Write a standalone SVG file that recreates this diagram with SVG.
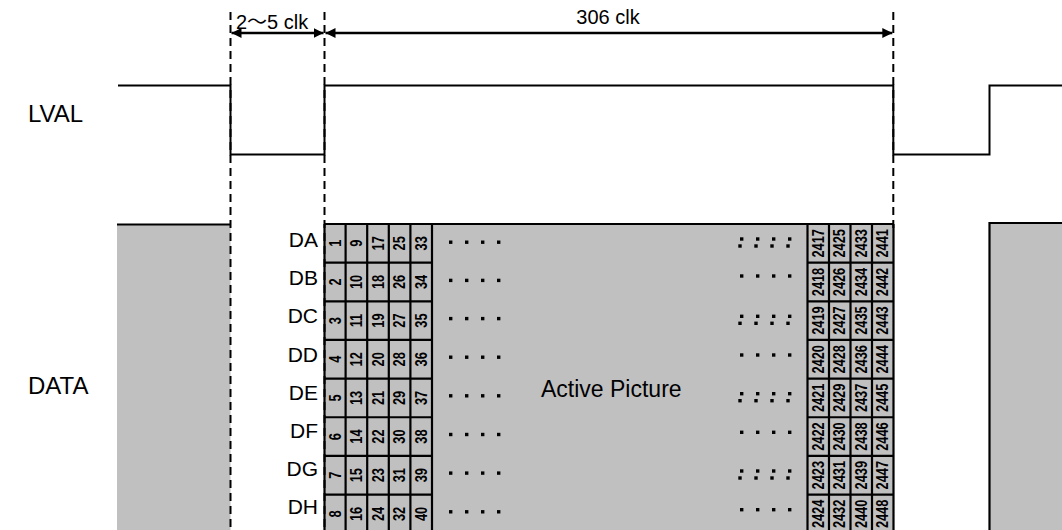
<svg xmlns="http://www.w3.org/2000/svg" width="1062" height="530" viewBox="0 0 1062 530">
<style>
.lbl{font-family:"Liberation Sans",Arial,sans-serif;font-size:24px;fill:#000}
.ap{font-family:"Liberation Sans",Arial,sans-serif;font-size:23px;fill:#000}
.row{font-family:"Liberation Sans",Arial,sans-serif;font-size:21px;fill:#000;text-anchor:end}
.num{font-family:"Liberation Sans",Arial,sans-serif;font-size:16px;font-weight:bold;fill:#000;text-anchor:middle;dominant-baseline:central}
.dim{font-family:"Liberation Sans","Noto Sans CJK JP",sans-serif;font-size:20px;fill:#000}
.wave{fill:none;stroke:#000;stroke-width:2}
.dash{stroke:#000;stroke-width:2;stroke-dasharray:8 5;fill:none}
.grid{stroke:#000;stroke-width:2.2;fill:none}
.gray{fill:#c0c0c0}
.dot{fill:#000}
</style>
<defs>
<marker id="ah" viewBox="0 0 10 10" refX="10" refY="5" markerWidth="10" markerHeight="10" markerUnits="userSpaceOnUse" orient="auto-start-reverse">
<path d="M0,0 L10,5 L0,10 Z" fill="#000"/>
</marker>
</defs>
<g id="labels">
<text class="lbl" x="28" y="122">LVAL</text>
<text class="lbl" x="28" y="394">DATA</text>
</g>
<g id="left-block">
<rect class="gray" x="117" y="224.5" width="113.5" height="305.5"/>
<line class="grid" x1="117" y1="224.5" x2="230.5" y2="224.5"/>
</g>
<g id="right-block">
<rect class="gray" x="989.5" y="223" width="72.5" height="307"/>
<path class="grid" d="M989.5,530 V223 H1062"/>
</g>
<g id="active-area">
<rect class="gray" x="324.5" y="224" width="569" height="306"/>
<line class="grid" x1="324.5" y1="224" x2="893.5" y2="224"/>
<text class="ap" x="541" y="397">Active Picture</text>
</g>
<g id="left-cells">
<path class="grid" d="M324.5,224 V530 M345.6,224 V530 M367.2,224 V530 M388.8,224 V530 M410.4,224 V530 M432,224 V530 M324.5,262.65 H432 M324.5,301.3 H432 M324.5,339.95 H432 M324.5,378.6 H432 M324.5,417.25 H432 M324.5,455.9 H432 M324.5,494.55 H432"/>
<g transform="translate(335,243.3) rotate(-90) scale(0.8,1)"><text class="num">1</text></g>
<g transform="translate(356.4,243.3) rotate(-90) scale(0.8,1)"><text class="num">9</text></g>
<g transform="translate(378,243.3) rotate(-90) scale(0.8,1)"><text class="num">17</text></g>
<g transform="translate(399.6,243.3) rotate(-90) scale(0.8,1)"><text class="num">25</text></g>
<g transform="translate(421.2,243.3) rotate(-90) scale(0.8,1)"><text class="num">33</text></g>
<g transform="translate(335,282) rotate(-90) scale(0.8,1)"><text class="num">2</text></g>
<g transform="translate(356.4,282) rotate(-90) scale(0.8,1)"><text class="num">10</text></g>
<g transform="translate(378,282) rotate(-90) scale(0.8,1)"><text class="num">18</text></g>
<g transform="translate(399.6,282) rotate(-90) scale(0.8,1)"><text class="num">26</text></g>
<g transform="translate(421.2,282) rotate(-90) scale(0.8,1)"><text class="num">34</text></g>
<g transform="translate(335,320.6) rotate(-90) scale(0.8,1)"><text class="num">3</text></g>
<g transform="translate(356.4,320.6) rotate(-90) scale(0.8,1)"><text class="num">11</text></g>
<g transform="translate(378,320.6) rotate(-90) scale(0.8,1)"><text class="num">19</text></g>
<g transform="translate(399.6,320.6) rotate(-90) scale(0.8,1)"><text class="num">27</text></g>
<g transform="translate(421.2,320.6) rotate(-90) scale(0.8,1)"><text class="num">35</text></g>
<g transform="translate(335,359.3) rotate(-90) scale(0.8,1)"><text class="num">4</text></g>
<g transform="translate(356.4,359.3) rotate(-90) scale(0.8,1)"><text class="num">12</text></g>
<g transform="translate(378,359.3) rotate(-90) scale(0.8,1)"><text class="num">20</text></g>
<g transform="translate(399.6,359.3) rotate(-90) scale(0.8,1)"><text class="num">28</text></g>
<g transform="translate(421.2,359.3) rotate(-90) scale(0.8,1)"><text class="num">36</text></g>
<g transform="translate(335,397.9) rotate(-90) scale(0.8,1)"><text class="num">5</text></g>
<g transform="translate(356.4,397.9) rotate(-90) scale(0.8,1)"><text class="num">13</text></g>
<g transform="translate(378,397.9) rotate(-90) scale(0.8,1)"><text class="num">21</text></g>
<g transform="translate(399.6,397.9) rotate(-90) scale(0.8,1)"><text class="num">29</text></g>
<g transform="translate(421.2,397.9) rotate(-90) scale(0.8,1)"><text class="num">37</text></g>
<g transform="translate(335,436.6) rotate(-90) scale(0.8,1)"><text class="num">6</text></g>
<g transform="translate(356.4,436.6) rotate(-90) scale(0.8,1)"><text class="num">14</text></g>
<g transform="translate(378,436.6) rotate(-90) scale(0.8,1)"><text class="num">22</text></g>
<g transform="translate(399.6,436.6) rotate(-90) scale(0.8,1)"><text class="num">30</text></g>
<g transform="translate(421.2,436.6) rotate(-90) scale(0.8,1)"><text class="num">38</text></g>
<g transform="translate(335,475.2) rotate(-90) scale(0.8,1)"><text class="num">7</text></g>
<g transform="translate(356.4,475.2) rotate(-90) scale(0.8,1)"><text class="num">15</text></g>
<g transform="translate(378,475.2) rotate(-90) scale(0.8,1)"><text class="num">23</text></g>
<g transform="translate(399.6,475.2) rotate(-90) scale(0.8,1)"><text class="num">31</text></g>
<g transform="translate(421.2,475.2) rotate(-90) scale(0.8,1)"><text class="num">39</text></g>
<g transform="translate(335,513.9) rotate(-90) scale(0.8,1)"><text class="num">8</text></g>
<g transform="translate(356.4,513.9) rotate(-90) scale(0.8,1)"><text class="num">16</text></g>
<g transform="translate(378,513.9) rotate(-90) scale(0.8,1)"><text class="num">24</text></g>
<g transform="translate(399.6,513.9) rotate(-90) scale(0.8,1)"><text class="num">32</text></g>
<g transform="translate(421.2,513.9) rotate(-90) scale(0.8,1)"><text class="num">40</text></g>
</g>
<g id="right-cells">
<path class="grid" d="M807.5,224 V530 M829,224 V530 M850.5,224 V530 M872,224 V530 M893.5,224 V530 M807.5,262.65 H893.5 M807.5,301.3 H893.5 M807.5,339.95 H893.5 M807.5,378.6 H893.5 M807.5,417.25 H893.5 M807.5,455.9 H893.5 M807.5,494.55 H893.5"/>
<g transform="translate(818.2,243.3) rotate(-90) scale(0.8,1)"><text class="num">2417</text></g>
<g transform="translate(839.7,243.3) rotate(-90) scale(0.8,1)"><text class="num">2425</text></g>
<g transform="translate(861.2,243.3) rotate(-90) scale(0.8,1)"><text class="num">2433</text></g>
<g transform="translate(882.7,243.3) rotate(-90) scale(0.8,1)"><text class="num">2441</text></g>
<g transform="translate(818.2,282) rotate(-90) scale(0.8,1)"><text class="num">2418</text></g>
<g transform="translate(839.7,282) rotate(-90) scale(0.8,1)"><text class="num">2426</text></g>
<g transform="translate(861.2,282) rotate(-90) scale(0.8,1)"><text class="num">2434</text></g>
<g transform="translate(882.7,282) rotate(-90) scale(0.8,1)"><text class="num">2442</text></g>
<g transform="translate(818.2,320.6) rotate(-90) scale(0.8,1)"><text class="num">2419</text></g>
<g transform="translate(839.7,320.6) rotate(-90) scale(0.8,1)"><text class="num">2427</text></g>
<g transform="translate(861.2,320.6) rotate(-90) scale(0.8,1)"><text class="num">2435</text></g>
<g transform="translate(882.7,320.6) rotate(-90) scale(0.8,1)"><text class="num">2443</text></g>
<g transform="translate(818.2,359.3) rotate(-90) scale(0.8,1)"><text class="num">2420</text></g>
<g transform="translate(839.7,359.3) rotate(-90) scale(0.8,1)"><text class="num">2428</text></g>
<g transform="translate(861.2,359.3) rotate(-90) scale(0.8,1)"><text class="num">2436</text></g>
<g transform="translate(882.7,359.3) rotate(-90) scale(0.8,1)"><text class="num">2444</text></g>
<g transform="translate(818.2,397.9) rotate(-90) scale(0.8,1)"><text class="num">2421</text></g>
<g transform="translate(839.7,397.9) rotate(-90) scale(0.8,1)"><text class="num">2429</text></g>
<g transform="translate(861.2,397.9) rotate(-90) scale(0.8,1)"><text class="num">2437</text></g>
<g transform="translate(882.7,397.9) rotate(-90) scale(0.8,1)"><text class="num">2445</text></g>
<g transform="translate(818.2,436.6) rotate(-90) scale(0.8,1)"><text class="num">2422</text></g>
<g transform="translate(839.7,436.6) rotate(-90) scale(0.8,1)"><text class="num">2430</text></g>
<g transform="translate(861.2,436.6) rotate(-90) scale(0.8,1)"><text class="num">2438</text></g>
<g transform="translate(882.7,436.6) rotate(-90) scale(0.8,1)"><text class="num">2446</text></g>
<g transform="translate(818.2,475.2) rotate(-90) scale(0.8,1)"><text class="num">2423</text></g>
<g transform="translate(839.7,475.2) rotate(-90) scale(0.8,1)"><text class="num">2431</text></g>
<g transform="translate(861.2,475.2) rotate(-90) scale(0.8,1)"><text class="num">2439</text></g>
<g transform="translate(882.7,475.2) rotate(-90) scale(0.8,1)"><text class="num">2447</text></g>
<g transform="translate(818.2,513.9) rotate(-90) scale(0.8,1)"><text class="num">2424</text></g>
<g transform="translate(839.7,513.9) rotate(-90) scale(0.8,1)"><text class="num">2432</text></g>
<g transform="translate(861.2,513.9) rotate(-90) scale(0.8,1)"><text class="num">2440</text></g>
<g transform="translate(882.7,513.9) rotate(-90) scale(0.8,1)"><text class="num">2448</text></g>
</g>
<g id="row-labels">
<text class="row" x="318" y="247">DA</text>
<text class="row" x="318" y="285.2">DB</text>
<text class="row" x="318" y="323.4">DC</text>
<text class="row" x="318" y="361.6">DD</text>
<text class="row" x="318" y="399.8">DE</text>
<text class="row" x="318" y="438">DF</text>
<text class="row" x="318" y="476.2">DG</text>
<text class="row" x="318" y="514.4">DH</text>
</g>
<g id="dots">
<g id="left-dots">
<rect class="dot" x="449" y="240.5" width="3.4" height="3.4"/><rect class="dot" x="465" y="240.5" width="3.4" height="3.4"/><rect class="dot" x="481" y="240.5" width="3.4" height="3.4"/><rect class="dot" x="497" y="240.5" width="3.4" height="3.4"/>
<rect class="dot" x="449" y="278.7" width="3.4" height="3.4"/><rect class="dot" x="465" y="278.7" width="3.4" height="3.4"/><rect class="dot" x="481" y="278.7" width="3.4" height="3.4"/><rect class="dot" x="497" y="278.7" width="3.4" height="3.4"/>
<rect class="dot" x="449" y="316.9" width="3.4" height="3.4"/><rect class="dot" x="465" y="316.9" width="3.4" height="3.4"/><rect class="dot" x="481" y="316.9" width="3.4" height="3.4"/><rect class="dot" x="497" y="316.9" width="3.4" height="3.4"/>
<rect class="dot" x="449" y="355.5" width="3.4" height="3.4"/><rect class="dot" x="465" y="355.5" width="3.4" height="3.4"/><rect class="dot" x="481" y="355.5" width="3.4" height="3.4"/><rect class="dot" x="497" y="355.5" width="3.4" height="3.4"/>
<rect class="dot" x="449" y="394.1" width="3.4" height="3.4"/><rect class="dot" x="465" y="394.1" width="3.4" height="3.4"/><rect class="dot" x="481" y="394.1" width="3.4" height="3.4"/><rect class="dot" x="497" y="394.1" width="3.4" height="3.4"/>
<rect class="dot" x="449" y="432.8" width="3.4" height="3.4"/><rect class="dot" x="465" y="432.8" width="3.4" height="3.4"/><rect class="dot" x="481" y="432.8" width="3.4" height="3.4"/><rect class="dot" x="497" y="432.8" width="3.4" height="3.4"/>
<rect class="dot" x="449" y="471.4" width="3.4" height="3.4"/><rect class="dot" x="465" y="471.4" width="3.4" height="3.4"/><rect class="dot" x="481" y="471.4" width="3.4" height="3.4"/><rect class="dot" x="497" y="471.4" width="3.4" height="3.4"/>
<rect class="dot" x="449" y="510.1" width="3.4" height="3.4"/><rect class="dot" x="465" y="510.1" width="3.4" height="3.4"/><rect class="dot" x="481" y="510.1" width="3.4" height="3.4"/><rect class="dot" x="497" y="510.1" width="3.4" height="3.4"/>
</g>
<g id="right-dots">
<rect class="dot" x="740" y="237.3" width="3.4" height="3.4"/><rect class="dot" x="756" y="237.3" width="3.4" height="3.4"/><rect class="dot" x="772" y="237.3" width="3.4" height="3.4"/><rect class="dot" x="788" y="237.3" width="3.4" height="3.4"/>
<rect class="dot" x="738.3" y="244.3" width="3.4" height="3.4"/><rect class="dot" x="754.3" y="244.3" width="3.4" height="3.4"/><rect class="dot" x="770.3" y="244.3" width="3.4" height="3.4"/><rect class="dot" x="786.3" y="244.3" width="3.4" height="3.4"/>
<rect class="dot" x="740" y="274.3" width="3.4" height="3.4"/><rect class="dot" x="756" y="274.3" width="3.4" height="3.4"/><rect class="dot" x="772" y="274.3" width="3.4" height="3.4"/><rect class="dot" x="788" y="274.3" width="3.4" height="3.4"/>
<rect class="dot" x="740" y="314.6" width="3.4" height="3.4"/><rect class="dot" x="756" y="314.6" width="3.4" height="3.4"/><rect class="dot" x="772" y="314.6" width="3.4" height="3.4"/><rect class="dot" x="788" y="314.6" width="3.4" height="3.4"/>
<rect class="dot" x="738.3" y="321.6" width="3.4" height="3.4"/><rect class="dot" x="754.3" y="321.6" width="3.4" height="3.4"/><rect class="dot" x="770.3" y="321.6" width="3.4" height="3.4"/><rect class="dot" x="786.3" y="321.6" width="3.4" height="3.4"/>
<rect class="dot" x="740" y="353.3" width="3.4" height="3.4"/><rect class="dot" x="756" y="353.3" width="3.4" height="3.4"/><rect class="dot" x="772" y="353.3" width="3.4" height="3.4"/><rect class="dot" x="788" y="353.3" width="3.4" height="3.4"/>
<rect class="dot" x="740" y="392" width="3.4" height="3.4"/><rect class="dot" x="756" y="392" width="3.4" height="3.4"/><rect class="dot" x="772" y="392" width="3.4" height="3.4"/><rect class="dot" x="788" y="392" width="3.4" height="3.4"/>
<rect class="dot" x="738.3" y="399" width="3.4" height="3.4"/><rect class="dot" x="754.3" y="399" width="3.4" height="3.4"/><rect class="dot" x="770.3" y="399" width="3.4" height="3.4"/><rect class="dot" x="786.3" y="399" width="3.4" height="3.4"/>
<rect class="dot" x="740" y="430.6" width="3.4" height="3.4"/><rect class="dot" x="756" y="430.6" width="3.4" height="3.4"/><rect class="dot" x="772" y="430.6" width="3.4" height="3.4"/><rect class="dot" x="788" y="430.6" width="3.4" height="3.4"/>
<rect class="dot" x="740" y="469.3" width="3.4" height="3.4"/><rect class="dot" x="756" y="469.3" width="3.4" height="3.4"/><rect class="dot" x="772" y="469.3" width="3.4" height="3.4"/><rect class="dot" x="788" y="469.3" width="3.4" height="3.4"/>
<rect class="dot" x="738.3" y="476.3" width="3.4" height="3.4"/><rect class="dot" x="754.3" y="476.3" width="3.4" height="3.4"/><rect class="dot" x="770.3" y="476.3" width="3.4" height="3.4"/><rect class="dot" x="786.3" y="476.3" width="3.4" height="3.4"/>
<rect class="dot" x="740" y="508" width="3.4" height="3.4"/><rect class="dot" x="756" y="508" width="3.4" height="3.4"/><rect class="dot" x="772" y="508" width="3.4" height="3.4"/><rect class="dot" x="788" y="508" width="3.4" height="3.4"/>
</g>
</g>
<g id="connectors">
<polyline class="wave" points="118,85.5 230.5,85.5 230.5,154.5 324.5,154.5 324.5,85.5 893.3,85.5 893.3,154.5 989.5,154.5 989.5,85.5 1062,85.5"/>
<line class="dash" x1="230.5" y1="12" x2="230.5" y2="530"/>
<line class="dash" x1="324.5" y1="12" x2="324.5" y2="530"/>
<line class="dash" x1="893.3" y1="12" x2="893.3" y2="230"/>
<line x1="231.5" y1="33" x2="323.5" y2="33" stroke="#000" stroke-width="2.5" marker-start="url(#ah)" marker-end="url(#ah)"/>
<line x1="325.5" y1="33" x2="892.3" y2="33" stroke="#000" stroke-width="2.5" marker-start="url(#ah)" marker-end="url(#ah)"/>
</g>
<g id="dimension-labels">
<text class="dim" x="236" y="29">2〜5 clk</text>
<text class="dim" x="608" y="24" text-anchor="middle">306 clk</text>
</g>
</svg>
